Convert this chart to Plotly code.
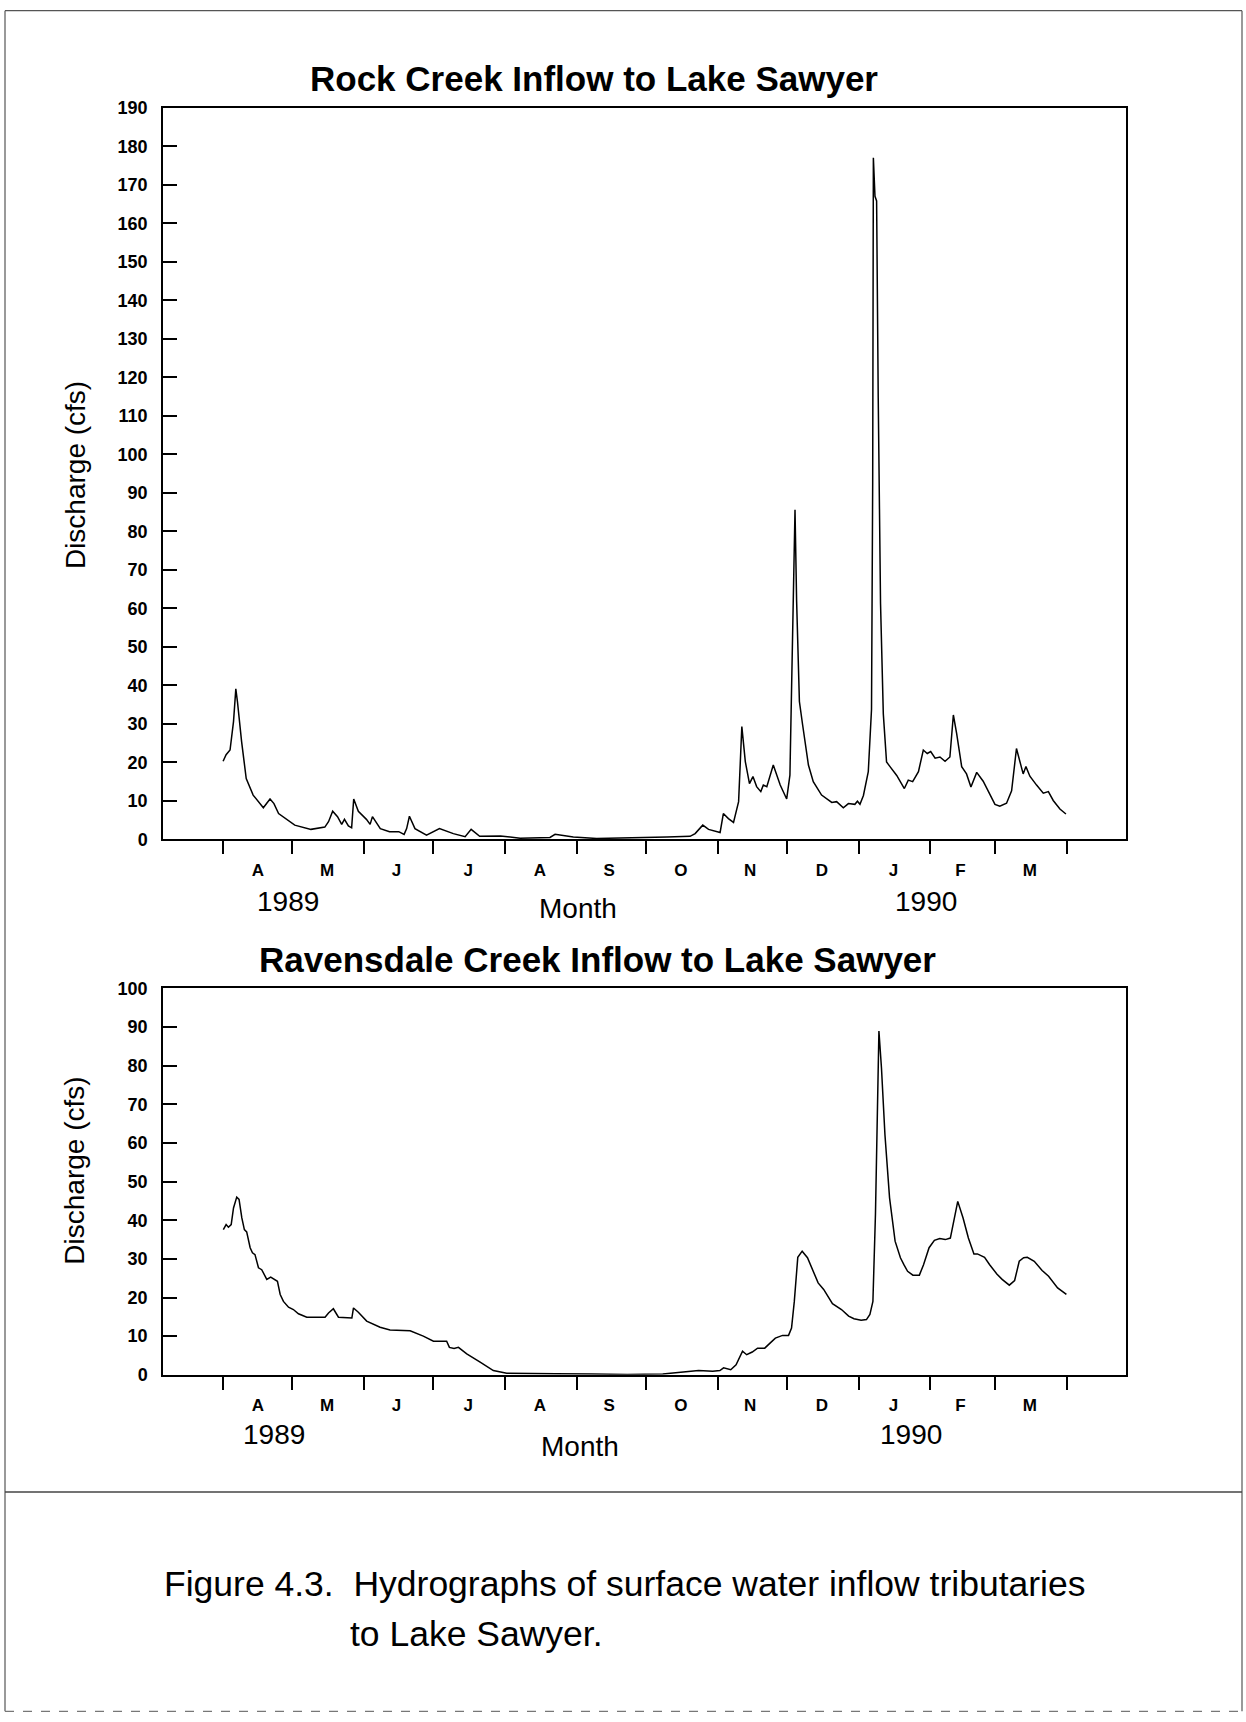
import plotly.graph_objects as go
import pandas as pd

W, H = 1246, 1722
# measured: the photographed page appears vertically as (y_fig + 9.4) * 0.9876
V_SCALE, V_OFF = 0.9876, 9.4
BASE = pd.Timestamp("1989-04-01")

# ---- data (days since 1 Apr 1989, discharge in cfs) ----
rock_days = [0, 1.3, 3, 4.5, 5.5, 6.2, 8, 10, 13, 17.4, 20.3, 22, 24, 27.5, 31, 38, 44, 45.6,
             47.4, 49.5, 51.3, 52.5, 54.2, 55.6, 56.5, 58.5, 62, 63.6, 64.6, 68, 72, 76, 78.3,
             79.4, 80.6, 83, 88, 93.6, 99.6, 104.7, 107.3, 111, 120, 128.5, 141.4, 143.6, 151.5,
             161.6, 181.8, 192, 202, 204.2, 207.5, 210, 215, 216.4, 218.6, 220.8, 223, 224.4,
             225.9, 227.7, 229.2, 230.8, 232.6, 233.7, 235.2, 238, 241, 243.8, 245.2, 246.7,
             247.4, 248.1, 249.3, 250.7, 253.2, 255.3, 258.9, 263.3, 265.4, 268.3, 270.5, 273.3,
             274.4, 275.5, 277, 279.1, 280.5, 281, 281.3, 282, 282.7, 283.4, 284.4, 285.6, 287,
             288.5, 291.4, 294.7, 296.4, 298.3, 300.8, 302.9, 304.6, 306.1, 308, 310.1, 312.3,
             314.4, 315.9, 317.3, 319.5, 321.6, 323.5, 326, 328.8, 333.9, 336, 338.9, 341.1,
             343.2, 344.7, 346.1, 347.3, 349, 351.9, 354.8, 357, 359.1, 362, 364.6]
rock_cfs = [20.3, 22, 23.2, 30.6, 39.1, 35.8, 25.4, 15.8, 11.5, 8.2, 10.5, 9.3, 6.7, 5.2, 3.7, 2.6,
            3.2, 4.6, 7.3, 5.9, 3.9, 5.2, 3.5, 3.0, 10.5, 7.3, 5.2, 3.9, 5.9, 2.8, 2.0, 2.0, 1.3,
            2.8, 6.0, 2.8, 1.1, 2.8, 1.5, 0.7, 2.6, 0.8, 0.9, 0.3, 0.5, 1.3, 0.6, 0.2, 0.4, 0.6,
            0.8, 1.5, 3.7, 2.6, 1.8, 6.7, 5.4, 4.4, 9.8, 29.3, 20.2, 14.5, 16.3, 13.7, 12.4, 14.1,
            13.7, 19.3, 14.1, 10.5, 16.7, 60, 85.6, 61.8, 35.8, 29.7, 19.3, 15, 11.5, 9.6, 9.8,
            8.2, 9.3, 9.1, 9.9, 9.1, 11.4, 17.6, 33.8, 92.3, 177, 167, 165.8, 114.7, 61.2, 32.6,
            20.1, 18.9, 16.6, 13.2, 15.4, 15, 17.6, 23.2, 22.3, 22.8, 21.1, 21.4, 20.3, 21.4,
            32.3, 27.6, 18.9, 17, 13.6, 17.4, 15.1, 9.1, 8.6, 9.4, 12.6, 23.6, 20.3, 17, 18.9,
            16.4, 14.1, 12, 12.4, 10.1, 7.9, 6.6]

raven_days = [0.1, 1.3, 2.3, 3.5, 4.5, 5.9, 6.9, 8.1, 9.2, 10.2, 11.7, 12.7, 13.8, 15.3, 16.7,
              18.9, 20.6, 22.5, 23.5, 24.7, 26.1, 28.3, 30.4, 32.6, 36.2, 44.1, 45.6, 47.7, 49.9,
              55.7, 56.4, 58.5, 62.1, 67.9, 72.2, 80.9, 86.6, 91, 96.7, 97.9, 99.9, 101.8, 105.4,
              111.2, 116.9, 122.7, 132, 143.9, 159.3, 174.8, 190.2, 201, 205.7, 211.8, 214.9,
              216.5, 219.6, 221.9, 223.5, 224.7, 226.5, 228.9, 231.2, 234.3, 236.6, 238.9, 242,
              244.6, 245.9, 247.1, 248.6, 250.5, 252.8, 255.1, 257.4, 259.8, 263.6, 267.5, 270.6,
              272.9, 276, 278.3, 279.8, 281.1, 282.2, 283.7, 284.8, 286.3, 288.3, 290.7, 293,
              294.5, 296.1, 298.4, 301.2, 303, 305.4, 307.7, 310, 312.4, 314.6, 317.8, 320.1,
              322.4, 324.8, 326.3, 329.4, 331.6, 334.7, 337, 340.1, 342.4, 344.4, 346.3, 347.9,
              350.9, 354.3, 357.1, 361, 364.8]
raven_cfs = [37.6, 38.9, 38.2, 38.9, 43.2, 46, 45.4, 40.6, 37.6, 37, 32.9, 31.6, 31.1, 27.7, 27.2,
             24.7, 25.3, 24.7, 24.2, 20.8, 19, 17.5, 16.9, 15.8, 14.9, 14.9, 16, 17.1, 14.9, 14.7,
             17.3, 16.2, 13.9, 12.3, 11.6, 11.4, 10, 8.7, 8.7, 7.1, 6.8, 7.1, 5.4, 3.3, 1.1, 0.4,
             0.4, 0.3, 0.2, 0.1, 0.2, 0.7, 1.1, 0.9, 1.1, 1.8, 1.3, 2.6, 4.5, 6.1, 5.2, 5.9, 6.9,
             6.9, 8.2, 9.5, 10.2, 10.2, 12.1, 19, 30.4, 32, 30.3, 27, 23.8, 22.1, 18.4, 16.9, 15.2,
             14.5, 14.1, 14.3, 15.6, 19, 41.5, 89, 79.5, 62.2, 45.8, 34.6, 30.3, 28.5, 26.8, 25.8,
             25.8, 28.5, 32.9, 34.8, 35.3, 35, 35.4, 44.9, 40.6, 35.4, 31.3, 31.3, 30.4, 28.5,
             26.1, 24.7, 23.2, 24.4, 29.4, 30.3, 30.4, 29.4, 27, 25.5, 22.5, 20.8]

month_letters = ["A", "M", "J", "J", "A", "S", "O", "N", "D", "J", "F", "M"]
month_mid = ["1989-04-16", "1989-05-16", "1989-06-15", "1989-07-16", "1989-08-16",
             "1989-09-15", "1989-10-16", "1989-11-15", "1989-12-16", "1990-01-16",
             "1990-02-14", "1990-03-16"]
rock_yticks = list(range(0, 191, 10))
raven_yticks = list(range(0, 101, 10))
x_range = ["1989-03-06", "1990-04-26 14:00"]


def to_dates(days):
    return [BASE + pd.Timedelta(days=d) for d in days]


def px(x):
    return min(max(x / W, 0.0004), 0.9996)


def py(y):
    y_fig = y / V_SCALE - V_OFF
    return min(max(1 - y_fig / H, 0.0004), 0.9996)


FONT = "Liberation Sans, Arial, Helvetica, sans-serif"

fig = go.Figure()
fig.add_trace(go.Scatter(x=to_dates(rock_days), y=rock_cfs, mode="lines",
                         line=dict(color="black", width=1.5), xaxis="x", yaxis="y"))
fig.add_trace(go.Scatter(x=to_dates(raven_days), y=raven_cfs, mode="lines",
                         line=dict(color="black", width=1.5), xaxis="x2", yaxis="y2"))


def xaxis_cfg(anchor):
    return dict(
        domain=[px(163), px(1126)], anchor=anchor, type="date", range=x_range,
        tickmode="array", tickvals=month_mid, ticktext=month_letters, ticks="",
        ticklabelstandoff=14,
        tickfont=dict(family=FONT, size=17, color="black", weight="bold"),
        showline=True, mirror=True, linecolor="black", linewidth=1.5,
        showgrid=False, zeroline=False,
        minor=dict(ticks="outside", ticklen=13, tickwidth=1.5, tickcolor="black",
                   dtick="M1", tick0="1989-04-01", showgrid=False),
    )


def yaxis_cfg(anchor, top, bottom, rng, ticks):
    return dict(
        domain=[py(bottom), py(top)], anchor=anchor, range=rng,
        tickmode="array", tickvals=ticks, ticks="inside", ticklen=14, tickwidth=1.5,
        tickcolor="black", ticklabelstandoff=10,
        tickfont=dict(family=FONT, size=18, color="black", weight="bold"),
        showline=True, mirror=True, linecolor="black", linewidth=1.5,
        showgrid=False, zeroline=False,
    )


fig.update_layout(
    width=W, height=H, margin=dict(l=0, r=0, t=0, b=0),
    paper_bgcolor="white", plot_bgcolor="white", showlegend=False,
    xaxis=xaxis_cfg("y"),
    yaxis=yaxis_cfg("x", 107, 838, [0, 190], rock_yticks),
    xaxis2=xaxis_cfg("y2"),
    yaxis2=yaxis_cfg("x2", 987, 1373, [0, 100], raven_yticks),
)


def ann(text, x, y, size, bold=False, angle=0, xanchor="center"):
    fig.add_annotation(text=text, x=px(x), y=py(y), xref="paper", yref="paper",
                       showarrow=False, xanchor=xanchor, yanchor="middle", textangle=angle,
                       font=dict(family=FONT, size=size, color="black",
                                 weight="bold" if bold else "normal"))


ann("Rock Creek Inflow to Lake Sawyer", 594, 78, 35, bold=True)
ann("Ravensdale Creek Inflow to Lake Sawyer", 597, 958, 35, bold=True)
ann("Discharge (cfs)", 75, 474, 28, angle=-90)
ann("Discharge (cfs)", 75, 1169, 28, angle=-90)
ann("1989", 288, 900, 28)
ann("1990", 926, 900, 28)
ann("Month", 578, 907, 28)
ann("1989", 274, 1433, 28)
ann("1990", 911, 1433, 28)
ann("Month", 580, 1445, 28)
ann("Figure 4.3.&nbsp;&nbsp;Hydrographs of surface water inflow tributaries", 162, 1582, 35.5,
    xanchor="left")
ann("to Lake Sawyer.", 348, 1632, 35.5, xanchor="left")

# page frame (dashed bottom edge) and caption separator
frame = dict(color="#555555", width=1.2)
L, R, T, B = px(5), px(1242), py(4), py(1719)
fig.add_shape(type="line", xref="paper", yref="paper", x0=L, x1=R, y0=T, y1=T, line=frame)
fig.add_shape(type="line", xref="paper", yref="paper", x0=L, x1=L, y0=T, y1=B, line=frame)
fig.add_shape(type="line", xref="paper", yref="paper", x0=R, x1=R, y0=T, y1=B, line=frame)
fig.add_shape(type="line", xref="paper", yref="paper", x0=L, x1=R, y0=B, y1=B,
              line=dict(color="#777777", width=1.2, dash="dash"))
fig.add_shape(type="line", xref="paper", yref="paper", x0=L, x1=R, y0=py(1490),
              y1=py(1490), line=dict(color="#444444", width=1.5))

fig.write_html("out.html")
